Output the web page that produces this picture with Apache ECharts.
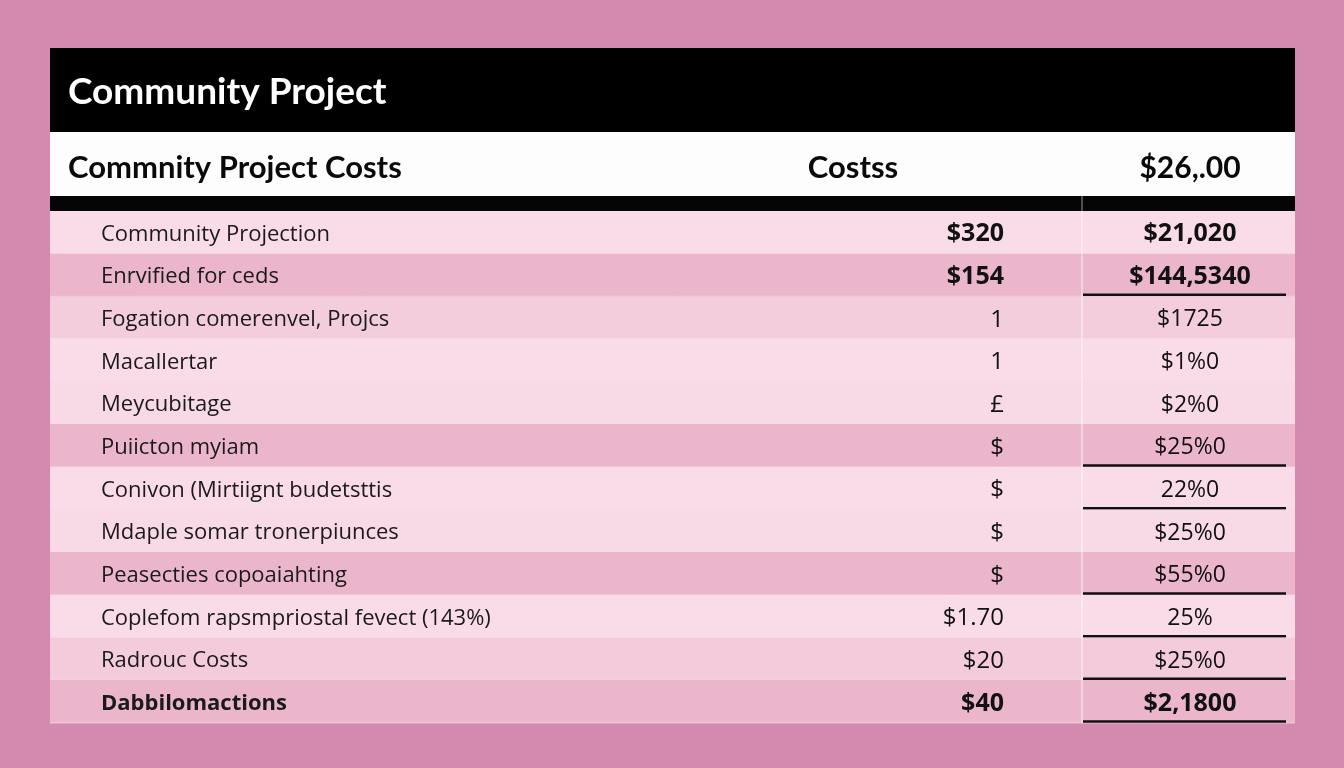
<!DOCTYPE html>
<html>
<head>
<meta charset="utf-8">
<script src="https://cdn.jsdelivr.net/npm/echarts@6/dist/echarts.min.js"></script>
<style>
  html, body { margin: 0; padding: 0; background: #d48aae; }
  #main { width: 1344px; height: 768px; }
</style>
</head>
<body>
<div id="main"></div>
<script>
// table content
const titleText = 'Community Project';
const headerCols = ['Commnity Project Costs', 'Costss', '$26,.00'];
const rowLabels = [
  'Community Projection',
  'Enrvified for ceds',
  'Fogation comerenvel, Projcs',
  'Macallertar',
  'Meycubitage',
  'Puiicton myiam',
  'Conivon (Mirtiignt budetsttis',
  'Mdaple somar tronerpiunces',
  'Peasecties copoaiahting',
  'Coplefom rapsmpriostal fevect (143%)',
  'Radrouc Costs',
  'Dabbilomactions'
];
const costValues = ['$320', '$154', '1', '1', '£', '$', '$', '$', '$', '$1.70', '$20', '$40'];
const totalValues = ['$21,020', '$144,5340', '$1725', '$1%0', '$2%0', '$25%0', '22%0', '$25%0', '$55%0', '25%', '$25%0', '$2,1800'];

// styling per row
const rowFill = ['#f9dce8', '#ebb6cc', '#f4cddc', '#f9dce8', '#f8d9e6', '#ebb6cc',
                 '#f9dce8', '#f8d9e6', '#ebb6cc', '#f9dce8', '#f3cbdb', '#ebb6cc'];
const boldRows = [0, 1, 11];
const underlineRows = [1, 5, 6, 8, 9, 10, 11];

const chart = echarts.init(document.getElementById('main'));

function renderRow(params, api) {
  const i = api.value(1);
  const cs = params.coordSys;
  const yc = api.coord([0, i])[1] + 2;
  const h = api.size([0, 1])[1];
  const top = yc - 2 - h / 2;
  const x0 = cs.x;
  const bold = boldRows.indexOf(i) >= 0;
  const children = [
    { type: 'rect', shape: { x: x0, y: top, width: cs.width, height: h },
      style: { fill: rowFill[i] } },
    { type: 'line', shape: { x1: x0, y1: top + h, x2: x0 + cs.width, y2: top + h },
      style: { stroke: 'rgba(255,255,255,0.45)', lineWidth: 1 } },
    { type: 'line', shape: { x1: x0 + 1032, y1: top, x2: x0 + 1032, y2: top + h },
      style: { stroke: 'rgba(255,255,255,0.8)', lineWidth: 1 } },
    { type: 'text', style: { text: rowLabels[i], x: x0 + 51, y: yc, verticalAlign: 'middle',
      font: (i === 11 ? 'bold ' : '') + '22px "Open Sans"', fill: '#1a1a1a' } },
    { type: 'text', style: { text: costValues[i], x: x0 + 954, y: yc, align: 'right', verticalAlign: 'middle',
      font: (bold ? 'bold 25px ' : '24px ') + '"Open Sans"', fill: '#111' } },
    { type: 'text', style: { text: totalValues[i], x: x0 + 1140, y: yc, align: 'center', verticalAlign: 'middle',
      font: (bold ? 'bold 25px ' : '23px ') + '"Open Sans"', fill: '#111' } }
  ];
  if (underlineRows.indexOf(i) >= 0) {
    children.push({ type: 'line', shape: { x1: x0 + 1033, y1: top + h - 1.5, x2: x0 + 1236, y2: top + h - 1.5 },
      style: { stroke: '#111', lineWidth: 2.5 } });
  }
  return { type: 'group', children: children };
}

const option = {
  backgroundColor: '#d48aae',
  animation: false,
  grid: { left: 50, right: 49, top: 211, bottom: 45 },
  xAxis: { type: 'value', min: 0, max: 1, show: false },
  yAxis: { type: 'category', data: rowLabels, inverse: true, show: false },
  graphic: [
    { type: 'rect', shape: { x: 50, y: 48, width: 1245, height: 84 }, style: { fill: '#000' } },
    { type: 'rect', shape: { x: 50, y: 132, width: 1245, height: 64 }, style: { fill: '#fdfdfd' } },
    { type: 'rect', shape: { x: 50, y: 196, width: 1245, height: 15 }, style: { fill: '#050505' } },
    { type: 'line', shape: { x1: 1082, y1: 196, x2: 1082, y2: 211 }, style: { stroke: '#9a9a9a', lineWidth: 1 } },
    { type: 'text', style: { text: titleText, x: 68, y: 92, verticalAlign: 'middle',
      font: 'bold 37px Lato', fill: '#fff' } },
    { type: 'text', style: { text: headerCols[0], x: 68, y: 168, verticalAlign: 'middle',
      font: 'bold 31px Lato', fill: '#0a0a0a' } },
    { type: 'text', style: { text: headerCols[1], x: 853, y: 168, align: 'center', verticalAlign: 'middle',
      font: 'bold 31px Lato', fill: '#0a0a0a' } },
    { type: 'text', style: { text: headerCols[2], x: 1190, y: 168, align: 'center', verticalAlign: 'middle',
      font: 'bold 30px Lato', fill: '#0a0a0a' } }
  ],
  series: [{
    type: 'custom',
    renderItem: renderRow,
    data: rowLabels.map((name, i) => [0, i]),
    encode: { x: 0, y: 1 },
    silent: true
  }]
};

chart.setOption(option);
</script>
</body>
</html>
